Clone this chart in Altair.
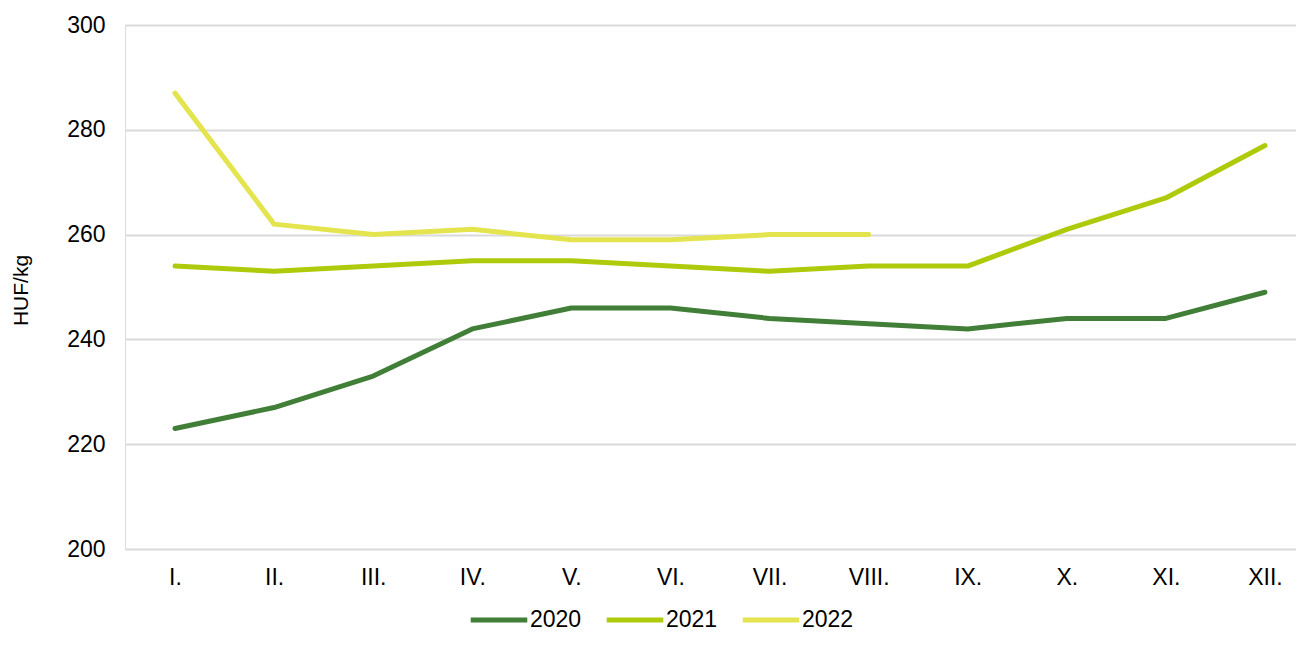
import altair as alt
import pandas as pd

months = ["I.", "II.", "III.", "IV.", "V.", "VI.", "VII.", "VIII.", "IX.", "X.", "XI.", "XII."]
y2020 = [223, 227, 233, 242, 246, 246, 244, 243, 242, 244, 244, 249]
y2021 = [254, 253, 254, 255, 255, 254, 253, 254, 254, 261, 267, 277]
y2022 = [287, 262, 260, 261, 259, 259, 260, 260]
years = ["2020", "2021", "2022"]
colors = ["#417E37", "#AFCA0B", "#E4E44F"]

rows = []
for yr, vals in zip(years, [y2020, y2021, y2022]):
    for m, v in zip(months, vals):
        rows.append({"month": m, "value": v, "year": yr})
df = pd.DataFrame(rows)

FONT = "Liberation Sans"

chart = alt.Chart(df).mark_line(strokeWidth=5, strokeCap="round", strokeJoin="round").encode(
    x=alt.X("month:O", sort=months, title=None,
            scale=alt.Scale(type="point", padding=0.409, align=0.617),
            axis=alt.Axis(labelAngle=0, domain=False, ticks=False, labelPadding=17,
                          labelFontSize=23, labelFont=FONT, labelColor="#000000", grid=False)),
    y=alt.Y("value:Q", title="HUF/kg",
            scale=alt.Scale(domain=[200, 300], nice=False, zero=False),
            axis=alt.Axis(values=[200, 220, 240, 260, 280, 300], domain=False, ticks=False,
                          labelPadding=20, labelFontSize=23, labelFont=FONT, labelColor="#000000",
                          gridColor="#DADADA", gridWidth=2,
                          titleFont=FONT, titleFontSize=21, titleFontWeight="normal",
                          titleColor="#000000", titleX=-98, titleY=265, titleAngle=-90,
                          titleAlign="center", titleBaseline="alphabetic")),
    color=alt.Color("year:N", scale=alt.Scale(domain=years, range=colors),
                    legend=alt.Legend(title=None, orient="none", direction="horizontal",
                                      legendX=343, legendY=564, padding=0,
                                      symbolType="stroke", symbolSize=3200, symbolStrokeWidth=5,
                                      labelFont=FONT, labelFontSize=23, labelColor="#000000",
                                      labelOffset=0, columnPadding=14)),
).properties(
    width=1171, height=524,
    autosize=alt.AutoSizeParams(type="none"),
    padding={"left": 117, "top": 17, "right": 0, "bottom": 85},
).configure_view(stroke=None).configure(background="white")

chart.save("out.html", embed_options={"renderer": "svg", "actions": False})
